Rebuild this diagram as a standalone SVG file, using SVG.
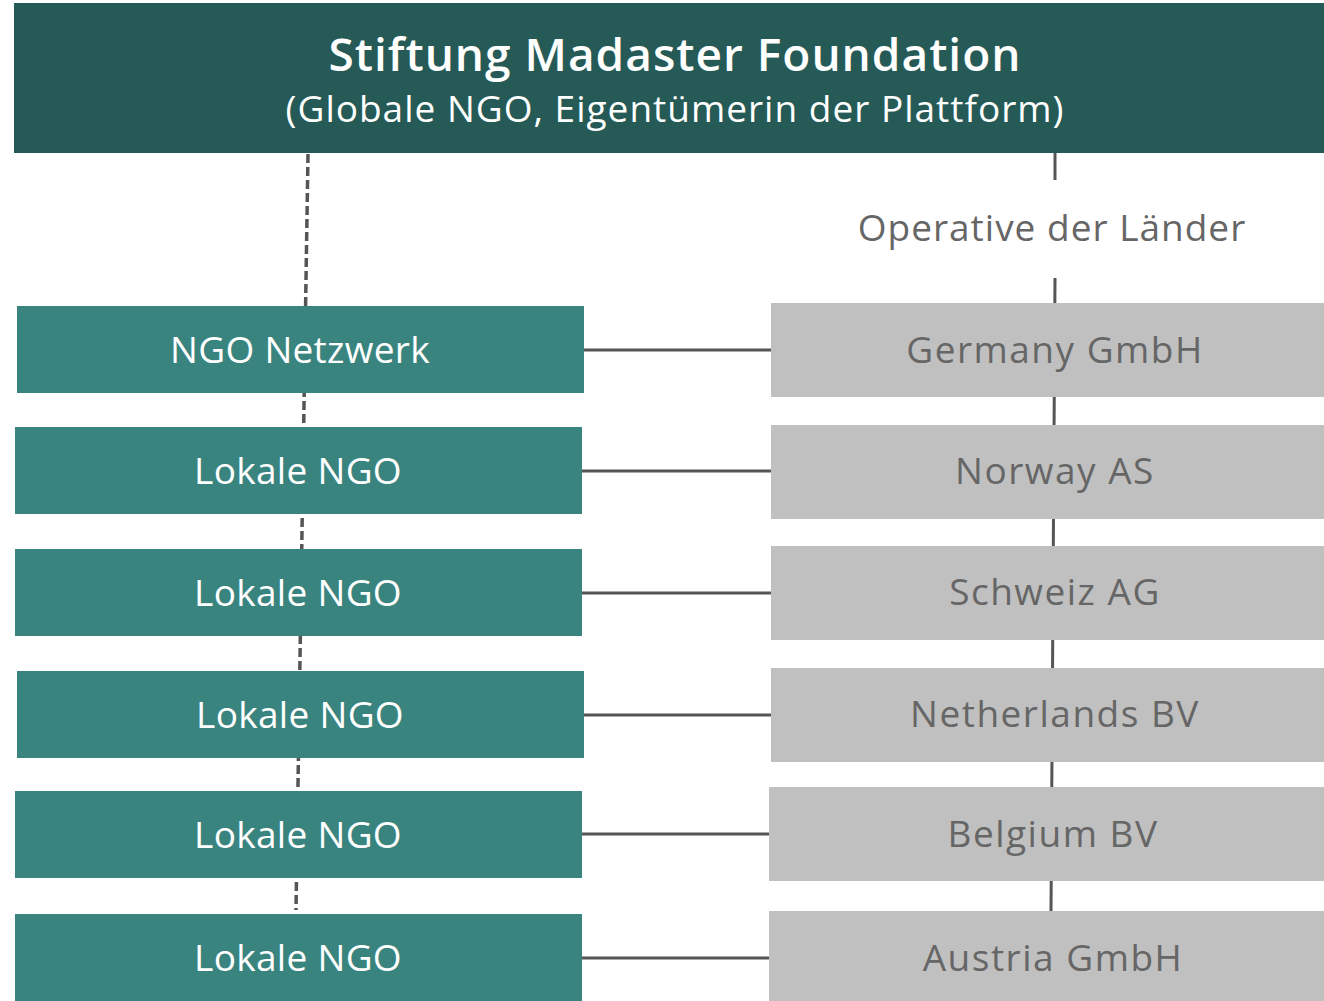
<svg xmlns="http://www.w3.org/2000/svg" width="1324" height="1001" viewBox="0 0 1324 1001">
<style>
.ngo{fill:#3A8480}
.op{fill:#C0C0C0}
.t{font-family:"Open Sans","Liberation Sans",sans-serif;font-size:37px;text-anchor:middle}
.tw{fill:#FFFFFF;letter-spacing:0.3px}
.tg{fill:#666666;letter-spacing:1.5px}
.c{stroke:#555555;stroke-width:3;fill:none}
.d{stroke:#555555;stroke-width:3.5;fill:none;stroke-dasharray:9 4}
</style>
<rect width="1324" height="1001" fill="#FFFFFF"/>
<g id="connectors">
<line class="d" x1="308" y1="154" x2="296" y2="910"/>
<line class="c" x1="1055" y1="153" x2="1055" y2="180"/>
<line class="c" x1="1055" y1="278" x2="1051" y2="912"/>
<line class="c" x1="584" y1="350" x2="771" y2="350"/>
<line class="c" x1="582" y1="471" x2="771" y2="471"/>
<line class="c" x1="582" y1="593" x2="771" y2="593"/>
<line class="c" x1="584" y1="715" x2="771" y2="715"/>
<line class="c" x1="582" y1="834" x2="769" y2="834"/>
<line class="c" x1="582" y1="958" x2="769" y2="958"/>
</g>
<g id="foundation">
<rect x="14" y="3" width="1310" height="150" fill="#255A57"/>
<text x="675" y="71" font-family="Open Sans, Liberation Sans, sans-serif" font-size="46" font-weight="600" letter-spacing="1" fill="#FFFFFF" text-anchor="middle">Stiftung Madaster Foundation</text>
<text class="t" x="675" y="122" fill="#FFFFFF" letter-spacing="1">(Globale NGO, Eigentümerin der Plattform)</text>
</g>
<g id="label-operative">
<text class="t" x="1052" y="241" fill="#666666" letter-spacing="1">Operative der Länder</text>
</g>
<g id="ngo-netzwerk"><rect class="ngo" x="17" y="306" width="567" height="87"/><text class="t tw" x="300" y="363">NGO Netzwerk</text></g>
<g id="lokale-ngo-1"><rect class="ngo" x="15" y="427" width="567" height="87"/><text class="t tw" x="298" y="484">Lokale NGO</text></g>
<g id="lokale-ngo-2"><rect class="ngo" x="15" y="549" width="567" height="87"/><text class="t tw" x="298" y="606">Lokale NGO</text></g>
<g id="lokale-ngo-3"><rect class="ngo" x="17" y="671" width="567" height="87"/><text class="t tw" x="300" y="728">Lokale NGO</text></g>
<g id="lokale-ngo-4"><rect class="ngo" x="15" y="791" width="567" height="87"/><text class="t tw" x="298" y="848">Lokale NGO</text></g>
<g id="lokale-ngo-5"><rect class="ngo" x="15" y="914" width="567" height="87"/><text class="t tw" x="298" y="971">Lokale NGO</text></g>
<g id="germany"><rect class="op" x="771" y="303" width="553" height="94"/><text class="t tg" x="1055" y="363">Germany GmbH</text></g>
<g id="norway"><rect class="op" x="771" y="425" width="553" height="94"/><text class="t tg" x="1055" y="484">Norway AS</text></g>
<g id="schweiz"><rect class="op" x="771" y="546" width="553" height="94"/><text class="t tg" x="1055" y="605">Schweiz AG</text></g>
<g id="netherlands"><rect class="op" x="771" y="668" width="553" height="94"/><text class="t tg" x="1055" y="727">Netherlands BV</text></g>
<g id="belgium"><rect class="op" x="769" y="787" width="555" height="94"/><text class="t tg" x="1053" y="847">Belgium BV</text></g>
<g id="austria"><rect class="op" x="769" y="911" width="555" height="90"/><text class="t tg" x="1053" y="971">Austria GmbH</text></g>
</svg>
